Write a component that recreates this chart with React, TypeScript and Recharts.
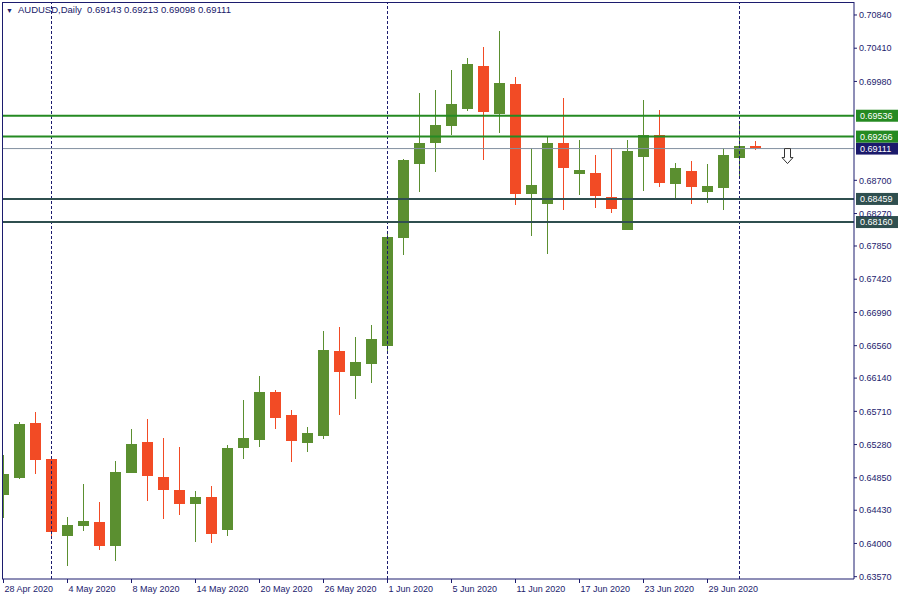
import React from "react";
import { Bar, ComposedChart, ReferenceDot, ReferenceLine, XAxis, YAxis } from "recharts";

// AUDUSD daily candles, 28 Apr 2020 - 2 Jul 2020
const days = [
  "28 Apr 2020", "29 Apr 2020", "30 Apr 2020", "1 May 2020", "4 May 2020", "5 May 2020",
  "6 May 2020", "7 May 2020", "8 May 2020", "11 May 2020", "12 May 2020", "13 May 2020",
  "14 May 2020", "15 May 2020", "18 May 2020", "19 May 2020", "20 May 2020", "21 May 2020",
  "22 May 2020", "25 May 2020", "26 May 2020", "27 May 2020", "28 May 2020", "29 May 2020",
  "1 Jun 2020", "2 Jun 2020", "3 Jun 2020", "4 Jun 2020", "5 Jun 2020", "8 Jun 2020",
  "9 Jun 2020", "10 Jun 2020", "11 Jun 2020", "12 Jun 2020", "15 Jun 2020", "16 Jun 2020",
  "17 Jun 2020", "18 Jun 2020", "19 Jun 2020", "22 Jun 2020", "23 Jun 2020", "24 Jun 2020",
  "25 Jun 2020", "26 Jun 2020", "29 Jun 2020", "30 Jun 2020", "1 Jul 2020", "2 Jul 2020",
];

const opens = [
  0.64627, 0.64847, 0.65559, 0.65093, 0.64101, 0.6423, 0.64278, 0.63971, 0.64916, 0.65313,
  0.6486, 0.64692, 0.64515, 0.64602, 0.64178, 0.6524, 0.65343, 0.65961, 0.65663, 0.65297,
  0.65395, 0.66491, 0.66171, 0.66327, 0.6656, 0.67958, 0.68915, 0.69187, 0.69407, 0.69627,
  0.7018, 0.69563, 0.69947, 0.68527, 0.68398, 0.69183, 0.68786, 0.68795, 0.68484, 0.68061,
  0.69006, 0.69287, 0.68657, 0.68821, 0.68553, 0.68605, 0.68993, 0.69143,
];
const highs = [
  0.65145, 0.65572, 0.65702, 0.65106, 0.64347, 0.6477, 0.64537, 0.65067, 0.65482, 0.65611,
  0.65365, 0.65249, 0.64679, 0.64744, 0.65275, 0.65857, 0.66168, 0.65986, 0.65728, 0.65508,
  0.6675, 0.66806, 0.66672, 0.66828, 0.68044, 0.68976, 0.6983, 0.69869, 0.70128, 0.70284,
  0.70426, 0.70633, 0.70038, 0.69115, 0.69265, 0.69766, 0.69222, 0.69028, 0.69119, 0.69222,
  0.6974, 0.6961, 0.68924, 0.6895, 0.68915, 0.69119, 0.69438, 0.69213,
];
const lows = [
  0.64334, 0.64838, 0.64899, 0.64088, 0.63708, 0.64165, 0.63919, 0.63777, 0.64912, 0.6455,
  0.64321, 0.64372, 0.64019, 0.6401, 0.64101, 0.65097, 0.65253, 0.65486, 0.65058, 0.65188,
  0.65356, 0.65667, 0.65874, 0.66081, 0.66469, 0.67738, 0.68553, 0.68812, 0.69291, 0.69601,
  0.68967, 0.69317, 0.68381, 0.6798, 0.67747, 0.68316, 0.6851, 0.68342, 0.68281, 0.68058,
  0.68566, 0.68618, 0.68462, 0.68398, 0.68411, 0.6832, 0.6876, 0.69098,
];
const closes = [
  0.64899, 0.65546, 0.6508, 0.64149, 0.64239, 0.64291, 0.63971, 0.64925, 0.65288, 0.64873,
  0.64696, 0.64515, 0.64602, 0.64127, 0.65236, 0.65365, 0.65961, 0.65628, 0.6533, 0.6543,
  0.66504, 0.66223, 0.66349, 0.66646, 0.67967, 0.68963, 0.69183, 0.69416, 0.69688, 0.70206,
  0.69588, 0.6996, 0.68527, 0.6864, 0.69183, 0.68864, 0.68834, 0.68501, 0.68329, 0.6908,
  0.69287, 0.6867, 0.6886, 0.68618, 0.68631, 0.69028, 0.69148, 0.69111,
];

const xTicks = [0, 4, 8, 12, 16, 20, 24, 28, 32, 36, 40, 44];
const monthStarts = [3, 24, 46];
const priceTicks = [
  0.7084, 0.7041, 0.6998, 0.687, 0.6827, 0.6785, 0.6742, 0.6699, 0.6656, 0.6614, 0.6571,
  0.6528, 0.6485, 0.6443, 0.64, 0.6357,
];
const resistance = [0.69536, 0.69266];
const support = [0.68459, 0.6816];
const lastPrice = 0.69111;
const sellSignal = { i: 49, price: 0.69111 };

const X_DOMAIN = [-0.094, 53.156];
const Y_DOMAIN = [0.6354, 0.71008];

const NAVY = "#1c1c6e";
const BULL = "#5b8f30";
const BEAR = "#f24b25";
const FONT = "'Liberation Sans', Arial, sans-serif";

const data = days.map((d, i) => ({
  i,
  day: d,
  o: opens[i],
  h: highs[i],
  l: lows[i],
  c: closes[i],
}));

const Candle = (props: any) => {
  const { x, y, width, height, payload } = props;
  const { o, h, l, c } = payload;
  const top = Math.min(y, y + height);
  const span = Math.abs(height);
  const py = (v: number) => top + ((h - v) / (h - l)) * span;
  const color = c >= o ? BULL : BEAR;
  const left = Math.round(x);
  const w = Math.round(width);
  const cx = left + Math.floor(w / 2) + 0.5;
  const bTop = Math.round(Math.min(py(o), py(c)));
  const bH = Math.max(1, Math.round(Math.abs(py(o) - py(c))));
  return (
    <g>
      <line
        x1={cx}
        x2={cx}
        y1={Math.round(top)}
        y2={Math.round(top + span)}
        stroke={color}
        strokeWidth={1}
        shapeRendering="crispEdges"
      />
      <rect x={left} y={bTop} width={w} height={bH} fill={color} shapeRendering="crispEdges" />
    </g>
  );
};

const PriceTag = ({ viewBox, value, bg }: any) => {
  const x = viewBox.x + viewBox.width + 2;
  const y = viewBox.y;
  return (
    <g>
      <rect x={x} y={y - 6} width={42} height={12} fill={bg} />
      <text x={x + 4} y={y} dy={3.2} fill="#ffffff" fontSize={9} fontFamily={FONT}>
        {value.toFixed(5)}
      </text>
    </g>
  );
};

const XTick = ({ x, y, payload }: any) => (
  <text x={x + 1} y={y} dy={7} fill={NAVY} fontSize={9} fontFamily={FONT} textAnchor="start">
    {days[payload.value]}
  </text>
);

const SellArrow = ({ cx, cy }: any) => (
  <path
    d={`M${cx - 3},${cy} L${cx + 3},${cy} L${cx + 3},${cy + 9} L${cx + 5.5},${cy + 9} L${cx},${cy + 15} L${cx - 5.5},${cy + 9} L${cx - 3},${cy + 9} Z`}
    fill="#ffffff"
    stroke="#333333"
    strokeWidth={1}
  />
);

export default function App() {
  return (
    <div style={{ position: "absolute", left: 0, top: 0, width: 900, height: 600, background: "#fff" }}>
      <ComposedChart
        width={900}
        height={600}
        data={data}
        margin={{ top: 2, right: 0, bottom: 0, left: 2 }}
      >
        <XAxis
          dataKey="i"
          type="number"
          domain={X_DOMAIN}
          allowDataOverflow
          ticks={xTicks}
          interval={0}
          tick={<XTick />}
          tickSize={4}
          height={21}
          axisLine={{ stroke: NAVY }}
          tickLine={{ stroke: NAVY }}
        />
        <YAxis
          orientation="right"
          type="number"
          domain={Y_DOMAIN}
          allowDataOverflow
          ticks={priceTicks}
          interval={0}
          tickFormatter={(v: number) => v.toFixed(5)}
          tick={{ fill: NAVY, fontSize: 9, fontFamily: FONT }}
          tickSize={3}
          tickMargin={2}
          width={46}
          axisLine={{ stroke: NAVY }}
          tickLine={{ stroke: NAVY }}
        />
        {monthStarts.map((m) => (
          <ReferenceLine key={m} x={m} stroke={NAVY} strokeDasharray="3 2" />
        ))}
        <ReferenceLine
          y={lastPrice}
          stroke="#8391a0"
          strokeWidth={1}
          label={<PriceTag value={lastPrice} bg="#1b1a6b" />}
        />
        {resistance.map((r) => (
          <ReferenceLine
            key={r}
            y={r}
            stroke="#258a22"
            strokeWidth={2}
            label={<PriceTag value={r} bg="#258a22" />}
          />
        ))}
        {support.map((s) => (
          <ReferenceLine
            key={s}
            y={s}
            stroke="#2f4f4f"
            strokeWidth={2}
            label={<PriceTag value={s} bg="#2f4f4f" />}
          />
        ))}
        <Bar
          dataKey={(d: any) => [d.l, d.h]}
          barSize={11}
          shape={<Candle />}
          isAnimationActive={false}
        />
        <ReferenceDot x={sellSignal.i} y={sellSignal.price} shape={<SellArrow />} />
      </ComposedChart>
      <div
        style={{
          position: "absolute",
          left: 2,
          top: 2,
          width: 852,
          height: 577,
          borderTop: `1px solid ${NAVY}`,
          borderLeft: `1px solid ${NAVY}`,
          boxSizing: "border-box",
          pointerEvents: "none",
        }}
      />
      <div
        style={{
          position: "absolute",
          left: 6,
          top: 4,
          fontFamily: FONT,
          fontSize: 9.5,
          color: "#20206a",
          whiteSpace: "pre",
          lineHeight: "12px",
        }}
      >
        <span style={{ fontSize: 7, marginRight: 5 }}>▼</span>
        {"AUDUSD,Daily  0.69143 0.69213 0.69098 0.69111"}
      </div>
    </div>
  );
}
